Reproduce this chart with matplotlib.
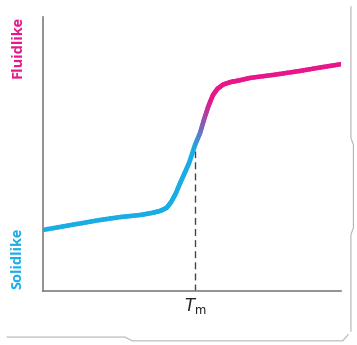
import numpy as np
import matplotlib
matplotlib.use("Agg")
import matplotlib.pyplot as plt
from matplotlib.collections import LineCollection
from matplotlib.colors import LinearSegmentedColormap
from matplotlib.lines import Line2D

# === DATA (arbitrary units 0-100) ===
temperature = [0, 10, 19, 26, 33, 37, 39.5, 41.5, 43, 44.5, 46, 47.5, 49, 51, 52.7,
               54, 55.5, 57, 58.5, 60.5, 63, 65.5, 69.5, 78, 86, 93, 100]
fluidity = [22.3, 24.2, 25.9, 27.0, 27.8, 28.6, 29.3, 30.4, 32.5, 35.5, 39.4, 43.0,
            46.7, 53.3, 57.7, 62.5, 67.5, 71.5, 73.8, 75.4, 76.3, 76.8, 77.8,
            79.0, 80.3, 81.6, 82.8]
tm = 51.0
tm_label = "$T_\\mathrm{m}$"
top_label = "Fluidlike"
bottom_label = "Solidlike"

cyan = "#19ade6"
magenta = "#e8168a"
axis_gray = "#7f7f7f"

fig = plt.figure(figsize=(3.57, 3.45), dpi=100)
ax = fig.add_axes([0.1204, 0.1565, 0.835, 0.794])
ax.set_xlim(0, 100)
ax.set_ylim(0, 100)

# split each segment into short pieces so the colour can fade smoothly
xs, ys = [], []
for i in range(len(temperature) - 1):
    t = np.linspace(0, 1, 6, endpoint=False)
    xs.extend(temperature[i] + t * (temperature[i + 1] - temperature[i]))
    ys.extend(fluidity[i] + t * (fluidity[i + 1] - fluidity[i]))
xs.append(temperature[-1])
ys.append(fluidity[-1])
pts = np.column_stack([xs, ys]).reshape(-1, 1, 2)
segs = np.concatenate([pts[:-1], pts[1:]], axis=1)
mid_y = (np.array(ys[:-1]) + np.array(ys[1:])) / 2

cmap = LinearSegmentedColormap.from_list("fl", [cyan, magenta])
frac = np.clip((mid_y - 52) / (70 - 52), 0, 1)
lc = LineCollection(segs, colors=cmap(frac), linewidths=3.3, capstyle="round",
                    joinstyle="round", zorder=3)
ax.add_collection(lc)

# dashed marker at the melting temperature
ax.plot([tm, tm], [0, 51], color="#444444", lw=1.0, ls=(0, (5, 3)), zorder=2)

for side in ["top", "right"]:
    ax.spines[side].set_visible(False)
for side in ["left", "bottom"]:
    ax.spines[side].set_color(axis_gray)
    ax.spines[side].set_linewidth(1.2)
ax.set_xticks([])
ax.set_yticks([])

ax.text(tm, -2.0, tm_label, ha="center", va="top", fontsize=12, color="#222222")

fig.text(0.048, 0.865, top_label, rotation=90, ha="center", va="center",
         color=magenta, fontsize=10.5, fontweight="bold", family="Open Sans")
fig.text(0.048, 0.25, bottom_label, rotation=90, ha="center", va="center",
         color=cyan, fontsize=10.5, fontweight="bold", family="Open Sans")

# torn paper edge around the figure
edge = "#b5b5b5"
fig.add_artist(Line2D([0.02, 0.35, 0.37, 0.96, 0.975], [0.023, 0.023, 0.012, 0.012, 0.03],
                      color=edge, lw=0.8, transform=fig.transFigure))
fig.add_artist(Line2D([0.983, 0.983, 0.99, 0.99, 0.983, 0.983],
                      [0.98, 0.60, 0.58, 0.34, 0.32, 0.04],
                      color=edge, lw=0.8, transform=fig.transFigure))

fig.savefig("out.png", dpi=100)
